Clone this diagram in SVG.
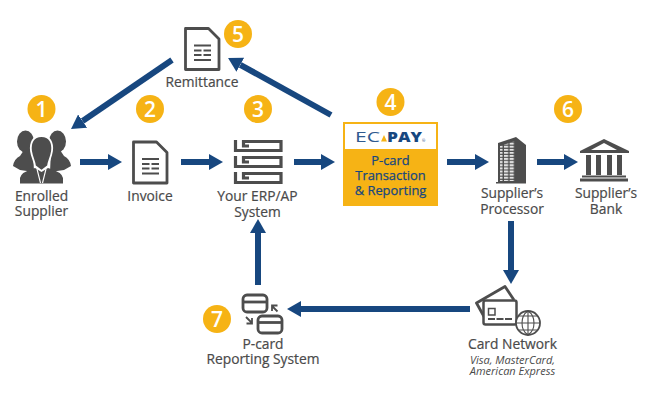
<svg xmlns="http://www.w3.org/2000/svg" width="650" height="400" viewBox="0 0 650 400">
<style>
.lbl{font:400 13.8px "Open Sans",sans-serif;fill:#4a4a4a;stroke:#4a4a4a;stroke-width:.2;text-anchor:middle}
.sub{font:italic 400 11px "Open Sans",sans-serif;fill:#4a4a4a;text-anchor:middle}
.box{font:400 12.9px "Open Sans",sans-serif;fill:#17477f;stroke:#17477f;stroke-width:.25;text-anchor:middle}
.num{font:600 21px "Open Sans",sans-serif;fill:#fff;text-anchor:middle}
.badge{fill:#f6b315}
.arrow{fill:none;stroke:#17477f;stroke-width:6;marker-end:url(#head)}
.ol{fill:none;stroke:#4d4d4d;stroke-width:2.800}
.fl{fill:#4d4d4d}
</style>
<defs>
<marker id="head" markerUnits="userSpaceOnUse" markerWidth="14" markerHeight="16" refX="0" refY="8" orient="auto"><path d="M0,0L14,8L0,16Z" fill="#17477f"/></marker>
<pattern id="win" width="5.6" height="3.1" patternUnits="userSpaceOnUse"><rect width="4.2" height="2" fill="#e4e4e4"/></pattern>
<g id="doc">
<path class="ol" d="M1.500,1.500H24.500L35,12V42.500H1.500Z" stroke-linejoin="round"/>
<path d="M10,18.500H27M10,23.500H17.500M19.500,23.500H27M10,28H17.500M19.500,28H27M10,33H27" stroke="#4d4d4d" stroke-width="1.800" fill="none"/>
</g>
<path id="erp" d="M235.500,0V10.500H281V1.500H243.500V6H249" fill="none" stroke="#4d4d4d" stroke-width="3.200"/>
</defs>
<g id="connectors">
<path class="arrow" d="M80,162H108"/>
<path class="arrow" d="M181,162H209"/>
<path class="arrow" d="M294,162H321"/>
<path class="arrow" d="M447,162H475"/>
<path class="arrow" d="M537,162H564"/>
<path class="arrow" d="M511,221V270"/>
<path class="arrow" d="M470,309H301"/>
<path class="arrow" d="M258,285V233"/>
<path class="arrow" d="M172,60L82.600,121.100"/>
<path class="arrow" d="M331,115L240.300,64.800"/>
</g>
<g id="node-1">
<circle class="badge" cx="41.500" cy="109" r="14"/><text class="num" x="41.500" y="116.500">1</text>
<ellipse class="fl" cx="25.500" cy="141.500" rx="8.500" ry="11"/><ellipse class="fl" cx="57.500" cy="141.500" rx="8.500" ry="11"/>
<path class="fl" d="M13,166Q14,159 20,156L24,150H33L34,172L20,170Z M71,166Q70,159 64,156L60,150H51L50,172L64,170Z"/>
<path class="fl" stroke="#fff" stroke-width="1.800" d="M41.500,136C50,136 53,143 52,151C51,158 48,162 48,166L41.500,171L35,166C35,162 32,158 31,151C30,143 33,136 41.500,136Z"/>
<path class="fl" d="M20,183.500V178Q21,172 35,168L41.500,172L48,168Q62,172 63,178V183.500Z"/>
<path d="M37,169L40.500,183M46,169L42.500,183" stroke="#fff" stroke-width="1.100" fill="none"/>
<text class="lbl" x="41.500" y="201">Enrolled</text><text class="lbl" x="41.500" y="216">Supplier</text>
</g>
<g id="node-2">
<circle class="badge" cx="150" cy="109" r="14"/><text class="num" x="150" y="116.500">2</text>
<use href="#doc" x="132" y="140.500"/>
<text class="lbl" x="150" y="201">Invoice</text>
</g>
<g id="node-3">
<circle class="badge" cx="258" cy="109" r="14"/><text class="num" x="258" y="116.500">3</text>
<use href="#erp" y="140"/><use href="#erp" y="156"/><use href="#erp" y="172"/>
<text class="lbl" x="257.500" y="201">Your ERP/AP</text><text class="lbl" x="257.500" y="217">System</text>
</g>
<g id="node-4">
<circle class="badge" cx="390.500" cy="102" r="14"/><text class="num" x="390.500" y="109.500">4</text>
<rect class="badge" x="343" y="122" width="95" height="84"/>
<rect x="345" y="124" width="91" height="25" fill="#fff"/>
<text x="355" y="141.500" textLength="25" lengthAdjust="spacingAndGlyphs" font-family="Open Sans, sans-serif" font-size="14" font-weight="400" fill="#2f5a8f">EC</text>
<path d="M381,141.500L384,135L387,141.500Z" fill="#f6b315"/>
<text x="387" y="141.500" textLength="35" lengthAdjust="spacingAndGlyphs" font-family="Open Sans, sans-serif" font-size="14" font-weight="800" fill="#17477f">PAY</text>
<text x="422" y="141.500" font-family="Open Sans, sans-serif" font-size="4" fill="#17477f">®</text>
<text class="box" x="390.500" y="165">P-card</text><text class="box" x="390.500" y="180">Transaction</text><text class="box" x="390.500" y="195">&amp; Reporting</text>
</g>
<g id="node-5">
<circle class="badge" cx="238" cy="34" r="14"/><text class="num" x="238" y="41.500">5</text>
<use href="#doc" x="184" y="27"/>
<text class="lbl" x="202" y="87">Remittance</text>
</g>
<g id="node-6">
<circle class="badge" cx="568" cy="109" r="14"/><text class="num" x="568" y="116.500">6</text>
<g id="processor">
<path class="fl" d="M496,182H526V183.500H496Z M498,143L516,137L526,145V182H498Z"/>
<path d="M500,146L515,141V181H500Z" fill="url(#win)"/>
</g>
<g id="bank">
<path class="fl" d="M604,139L629,151V153H580V151Z"/>
<path d="M604,143L591,150H617Z" fill="#fff"/>
<path class="fl" d="M586,155h5v20h-5Z M596,155h5v20h-5Z M607,155h5v20h-5Z M617,155h5v20h-5Z M582,175.500H626V177.500H582Z M580,178.500H628V181.500H580Z"/>
</g>
<text class="lbl" x="512" y="198">Supplier’s</text><text class="lbl" x="512" y="214">Processor</text>
<text class="lbl" x="606" y="198">Supplier’s</text><text class="lbl" x="606" y="214">Bank</text>
</g>
<g id="node-card-network">
<path class="ol" stroke-linejoin="round" d="M487,322L476.500,303L505,286.500L514,300"/>
<rect x="483.500" y="300.500" width="33" height="24" rx="2" fill="#fff" stroke="#4d4d4d" stroke-width="2.500"/>
<rect x="488.500" y="308.500" width="6.500" height="6.500" fill="none" stroke="#4d4d4d" stroke-width="1.500"/>
<path d="M488,319H512" stroke="#4d4d4d" stroke-width="2" stroke-dasharray="7 1.500" fill="none"/>
<circle cx="528" cy="323" r="12" fill="#fff" stroke="#4d4d4d" stroke-width="1.800"/>
<path d="M528,311V335M516,323H540M518,316H538M518,330H538M528,311C520,316 520,330 528,335M528,311C536,316 536,330 528,335" fill="none" stroke="#4d4d4d" stroke-width="1.100"/>
<text class="lbl" x="512.500" y="348.500">Card Network</text>
<text class="sub" x="512.500" y="364">Visa, MasterCard,</text><text class="sub" x="512.500" y="375">American Express</text>
</g>
<g id="node-7">
<circle class="badge" cx="217" cy="319" r="14"/><text class="num" x="217" y="326.500">7</text>
<rect class="ol" x="243" y="295" width="24" height="17" rx="4"/><path class="ol" d="M243,302H267"/>
<rect class="ol" x="258" y="316" width="24" height="17" rx="4"/><path class="ol" d="M258,322.500H282"/>
<path d="M277.500,311.500L272,306M272,311V305.500H277.500" fill="none" stroke="#4d4d4d" stroke-width="1.800"/>
<path d="M246,317L251.500,322.500M246.500,323.500H252V318" fill="none" stroke="#4d4d4d" stroke-width="1.800"/>
<text class="lbl" x="263" y="349">P-card</text><text class="lbl" x="263" y="364">Reporting System</text>
</g>
</svg>
